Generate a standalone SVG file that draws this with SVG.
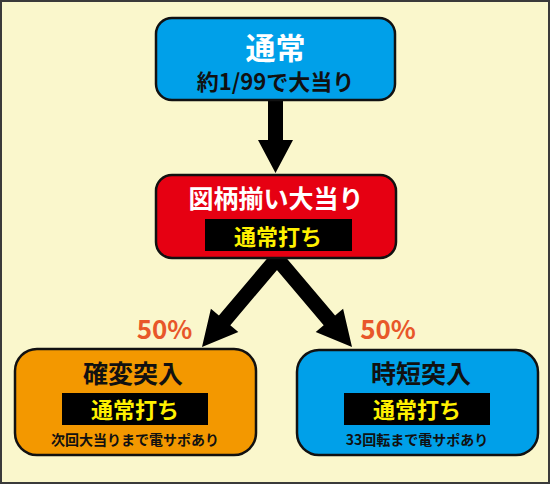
<svg xmlns="http://www.w3.org/2000/svg" width="551" height="485" viewBox="0 0 551 485">
<style>
.t{font-family:"Noto Sans CJK JP","Noto Sans",sans-serif;font-weight:bold;text-anchor:middle;dominant-baseline:central}
.box{stroke:#111;stroke-width:2.5}
.pct{fill:#E8572A;font-size:26px}
.arr{fill:#000}
</style>
<rect x="1" y="1" width="548" height="482" fill="#FAF7CC" stroke="#3a3a3a" stroke-width="2"/>
<g id="connectors">
<polygon class="arr" points="268,100 283,100 283,140 293,140 275.5,173 258,140 268,140"/>
<polygon class="arr" points="290.7,253.9 230.3,325.2 238.3,331.9 202,347 210.9,308.7 218.9,315.5 279.3,244.2"/>
<polygon class="arr" points="263.3,253.9 323.7,325.2 315.7,331.9 352,347 343.1,308.7 335.1,315.5 274.7,244.2"/>
</g>
<g id="node-normal">
<rect class="box" x="156" y="18" width="239" height="82" rx="16" fill="#00A0E9"/>
<text class="t" x="275.5" y="46" font-size="30" fill="#fff">通常</text>
<text class="t" x="275.5" y="80" font-size="22" fill="#111">約1/99で大当り</text>
</g>
<g id="node-hit">
<rect class="box" x="156" y="175" width="240" height="83" rx="16" fill="#E60012"/>
<text class="t" x="276" y="197" font-size="25" fill="#fff">図柄揃い大当り</text>
<rect x="205" y="219" width="147" height="32" fill="#000"/>
<text class="t" x="278" y="235" font-size="22" fill="#FFF100">通常打ち</text>
</g>
<g id="label-left">
<text class="t pct" x="164.5" y="327">50%</text>
</g>
<g id="label-right">
<text class="t pct" x="388" y="327">50%</text>
</g>
<g id="node-kakuhen">
<rect class="box" x="15" y="349" width="241" height="106" rx="22" fill="#F39800"/>
<text class="t" x="133" y="372" font-size="25" fill="#111">確変突入</text>
<rect x="62" y="393" width="146" height="32" fill="#000"/>
<text class="t" x="135" y="408" font-size="22" fill="#FFF100">通常打ち</text>
<text class="t" x="135" y="439" font-size="14" fill="#111">次回大当りまで電サポあり</text>
</g>
<g id="node-jitan">
<rect class="box" x="297" y="350" width="241" height="105" rx="22" fill="#00A0E9"/>
<text class="t" x="421" y="372" font-size="25" fill="#111">時短突入</text>
<rect x="344" y="393" width="146" height="32" fill="#000"/>
<text class="t" x="417" y="408" font-size="22" fill="#FFF100">通常打ち</text>
<text class="t" x="417" y="439" font-size="14" fill="#111">33回転まで電サポあり</text>
</g>
</svg>
